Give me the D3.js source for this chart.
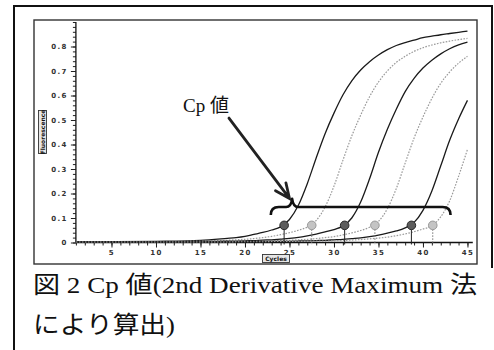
<!DOCTYPE html>
<html>
<head>
<meta charset="utf-8">
<script src="https://cdn.jsdelivr.net/npm/d3@7"></script>
<style>
  html, body { margin: 0; padding: 0; background: #fff; }
  svg { display: block; }
</style>
</head>
<body>
<svg id="chart" width="494" height="350"></svg>
<script>
// Amplification cycles at which fluorescence was sampled
const cycles = [1, 5, 10, 15, 18, 19, 20, 21, 22, 23, 24, 25, 26, 27, 28, 29, 30,
                31, 32, 33, 34, 35, 36, 37, 38, 39, 40, 41, 42, 43, 44, 45];

// Fluorescence of each reaction (alternating solid / dotted traces)
const run1 = [0.002, 0.003, 0.005, 0.009, 0.017, 0.020, 0.025, 0.033, 0.041, 0.051, 0.064, 0.094, 0.152, 0.240, 0.345, 0.444, 0.528,
              0.602, 0.660, 0.704, 0.738, 0.765, 0.787, 0.804, 0.816, 0.826, 0.836, 0.842, 0.848, 0.853, 0.858, 0.863];
const run2 = [0.002, 0.003, 0.004, 0.006, 0.009, 0.011, 0.013, 0.016, 0.020, 0.025, 0.032, 0.040, 0.050, 0.063, 0.090, 0.145, 0.230,
              0.335, 0.435, 0.520, 0.595, 0.655, 0.700, 0.735, 0.760, 0.780, 0.795, 0.806, 0.815, 0.822, 0.828, 0.833];
const run3 = [0.002, 0.002, 0.003, 0.004, 0.006, 0.006, 0.007, 0.008, 0.010, 0.011, 0.014, 0.017, 0.021, 0.027, 0.034, 0.043, 0.053,
              0.067, 0.100, 0.165, 0.260, 0.368, 0.462, 0.544, 0.616, 0.670, 0.712, 0.744, 0.770, 0.791, 0.807, 0.818];
const run4 = [0.002, 0.002, 0.002, 0.003, 0.004, 0.004, 0.005, 0.005, 0.006, 0.007, 0.008, 0.009, 0.011, 0.013, 0.016, 0.020, 0.024,
              0.031, 0.039, 0.049, 0.062, 0.086, 0.138, 0.220, 0.324, 0.426, 0.512, 0.588, 0.650, 0.696, 0.732, 0.760];
const run5 = [0.002, 0.002, 0.002, 0.002, 0.003, 0.003, 0.003, 0.004, 0.004, 0.004, 0.005, 0.005, 0.006, 0.007, 0.008, 0.009, 0.011,
              0.013, 0.016, 0.019, 0.024, 0.030, 0.038, 0.047, 0.060, 0.082, 0.131, 0.210, 0.313, 0.417, 0.504, 0.580];
const run6 = [0.002, 0.002, 0.002, 0.002, 0.002, 0.003, 0.003, 0.003, 0.003, 0.004, 0.004, 0.004, 0.005, 0.005, 0.006, 0.006, 0.007,
              0.008, 0.010, 0.012, 0.015, 0.018, 0.022, 0.028, 0.035, 0.044, 0.055, 0.068, 0.105, 0.170, 0.270, 0.380];
const runStyle = ["solid", "dotted", "solid", "dotted", "solid", "dotted"];

// Crossing points (Cp) found by the 2nd derivative maximum method
const cpCycles = [24.4, 27.5, 31.2, 34.6, 38.7, 41.1];
const cpFluor  = [0.07, 0.07, 0.07, 0.07, 0.07, 0.07];

// Axis ticks
const xMajorTicks = [5, 10, 15, 20, 25, 30, 35, 40, 45];
const yMajorTicks = [0, 0.1, 0.2, 0.3, 0.4, 0.5, 0.6, 0.7, 0.8];

// Texts
const yTitle = "Fluorescence";
const xTitle = "Cycles";
const cpLabel = "Cp 値";
const captionLines = ["図 2 Cp 値(2nd Derivative Maximum 法", "により算出)"];

const runs = [run1, run2, run3, run4, run5, run6];

const svg = d3.select("#chart");

// Outer frame
const frame = svg.append("g").attr("stroke", "#111").attr("fill", "none");
frame.append("line").attr("x1", 14).attr("y1", 6).attr("x2", 14).attr("y2", 350).attr("stroke-width", 2);
frame.append("line").attr("x1", 13).attr("y1", 6).attr("x2", 492).attr("y2", 6).attr("stroke-width", 2);
frame.append("line").attr("x1", 492).attr("y1", 5).attr("x2", 492).attr("y2", 268).attr("stroke-width", 2);

// Plot panel border
svg.append("rect")
  .attr("x", 34).attr("y", 20).attr("width", 443).attr("height", 244)
  .attr("fill", "none").attr("stroke", "#333").attr("stroke-width", 1.4);

// Scales
const x = d3.scaleLinear().domain([1, 45.6]).range([75.9, 472.8]);
const y = d3.scaleLinear().domain([0, 0.9]).range([242.5, 22]);

const tickFont = "bold 7px 'DejaVu Sans', sans-serif";

// Y axis: minor ticks every 0.02, labelled ticks every 0.1
const yMinor = d3.range(0, 0.901, 0.02);
svg.append("g")
  .attr("transform", `translate(${x(1)},0)`)
  .call(d3.axisLeft(y).tickValues(yMinor).tickSize(3).tickFormat(""))
  .call(g => g.selectAll("line").attr("stroke", "#222"))
  .call(g => g.select(".domain").remove());
svg.append("g")
  .attr("transform", `translate(${x(1)},0)`)
  .call(d3.axisLeft(y).tickValues(yMajorTicks).tickSize(5).tickPadding(3)
        .tickFormat(d => d === 0 ? "0" : d3.format(".1f")(d)))
  .call(g => g.selectAll("line").attr("stroke", "#222"))
  .call(g => g.select(".domain").attr("stroke", "#111").attr("stroke-width", 1.3)
        .attr("d", `M0,${y(0)}V${y(0.9)}`))
  .call(g => g.selectAll("text").style("font", tickFont).attr("letter-spacing", 1.4)
        .attr("fill", "#333"));

// X axis: minor ticks every cycle, labelled ticks every 5 cycles
svg.append("g")
  .attr("transform", `translate(0,${y(0)})`)
  .call(d3.axisBottom(x).tickValues(d3.range(1, 46)).tickSize(3).tickFormat(""))
  .call(g => g.selectAll("line").attr("stroke", "#222"))
  .call(g => g.select(".domain").remove());
svg.append("g")
  .attr("transform", `translate(0,${y(0)})`)
  .call(d3.axisBottom(x).tickValues(xMajorTicks).tickSize(5).tickPadding(3))
  .call(g => g.selectAll("line").attr("stroke", "#222"))
  .call(g => g.select(".domain").attr("stroke", "#111").attr("stroke-width", 1.3)
        .attr("d", `M${x(1)},0H${x(45.6)}`))
  .call(g => g.selectAll("text").style("font", tickFont).attr("letter-spacing", 1.4)
        .attr("fill", "#333"));

// Axis titles in small framed boxes
function boxedTitle(cx, cy, text, rotate, w, h) {
  const g = svg.append("g").attr("transform", `translate(${cx},${cy}) rotate(${rotate})`);
  g.append("rect").attr("x", -w / 2).attr("y", -h / 2).attr("width", w).attr("height", h)
    .attr("fill", "#e6e6e6").attr("stroke", "#333").attr("stroke-width", 0.9);
  g.append("text").attr("text-anchor", "middle").attr("dy", "0.35em")
    .style("font", "bold 6px 'DejaVu Sans', sans-serif").attr("fill", "#111")
    .text(text);
}
boxedTitle(42.5, 132, yTitle, -90, 43, 8);
boxedTitle(276, 258.5, xTitle, 0, 27, 8);

// Amplification curves
const line = d3.line()
  .x((d, i) => x(cycles[i]))
  .y(d => y(d))
  .curve(d3.curveMonotoneX);

svg.append("g").selectAll("path")
  .data(runs)
  .join("path")
  .attr("d", d => line(d))
  .attr("fill", "none")
  .attr("stroke", (d, i) => runStyle[i] === "solid" ? "#1a1a1a" : "#9a9a9a")
  .attr("stroke-width", (d, i) => runStyle[i] === "solid" ? 1.3 : 1.2)
  .attr("stroke-dasharray", (d, i) => runStyle[i] === "solid" ? null : "1.6,1.4");

// Cp markers with drop lines to the cycle axis
const cp = cpCycles.map((c, i) => ({ c, v: cpFluor[i], style: runStyle[i] }));
const markers = svg.append("g");
markers.selectAll("line")
  .data(cp)
  .join("line")
  .attr("x1", d => x(d.c)).attr("x2", d => x(d.c))
  .attr("y1", d => y(d.v) + 4).attr("y2", y(0) + 2)
  .attr("stroke", d => d.style === "solid" ? "#222" : "#777")
  .attr("stroke-width", 1)
  .attr("stroke-dasharray", d => d.style === "solid" ? null : "1.5,1.5");
markers.selectAll("circle")
  .data(cp)
  .join("circle")
  .attr("cx", d => x(d.c)).attr("cy", d => y(d.v))
  .attr("r", 4.3)
  .attr("fill", d => d.style === "solid" ? "#5c5c5c" : "#c4c4c4")
  .attr("stroke", d => d.style === "solid" ? "#2a2a2a" : "#999")
  .attr("stroke-width", 1);

// Curly brace spanning the Cp markers
const bL = x(22.9), bR = x(43.1), bTip = x(25.3), bY = y(0.145), bTipY = y(0.178);
svg.append("path")
  .attr("d", `M${bL},${bY + 8} Q${bL},${bY} ${bL + 8},${bY} L${bTip - 6},${bY}
              Q${bTip - 1},${bY} ${bTip},${bTipY} Q${bTip + 1},${bY} ${bTip + 6},${bY}
              L${bR - 8},${bY} Q${bR},${bY} ${bR},${bY + 8}`)
  .attr("fill", "none").attr("stroke", "#111").attr("stroke-width", 2.6)
  .attr("stroke-linejoin", "round");

// Arrow from the label to the Cp markers
const ax0 = x(18.2), ay0 = y(0.508), ax1 = x(25.0), ay1 = y(0.18);
const ang = Math.atan2(ay1 - ay0, ax1 - ax0);
const head = 16, spread = 0.42;
svg.append("path")
  .attr("d", `M${ax0},${ay0} L${ax1},${ay1}
              M${ax1 - head * Math.cos(ang - spread)},${ay1 - head * Math.sin(ang - spread)}
              L${ax1},${ay1}
              L${ax1 - head * Math.cos(ang + spread)},${ay1 - head * Math.sin(ang + spread)}`)
  .attr("fill", "none").attr("stroke", "#222").attr("stroke-width", 2.8)
  .attr("stroke-linecap", "round").attr("stroke-linejoin", "miter");

svg.append("text")
  .attr("x", 183).attr("y", 112)
  .style("font", "19px 'Liberation Serif', 'Noto Sans CJK JP', serif")
  .attr("fill", "#111")
  .text(cpLabel);

// Figure caption
svg.append("text")
  .attr("x", 33).attr("y", 293)
  .attr("textLength", 444).attr("lengthAdjust", "spacingAndGlyphs")
  .style("font", "24px 'Liberation Serif', 'Noto Sans CJK JP', serif")
  .attr("fill", "#111")
  .text(captionLines[0]);
svg.append("text")
  .attr("x", 33).attr("y", 333)
  .attr("textLength", 142).attr("lengthAdjust", "spacingAndGlyphs")
  .style("font", "24px 'Liberation Serif', 'Noto Sans CJK JP', serif")
  .attr("fill", "#111")
  .text(captionLines[1]);
</script>
</body>
</html>
